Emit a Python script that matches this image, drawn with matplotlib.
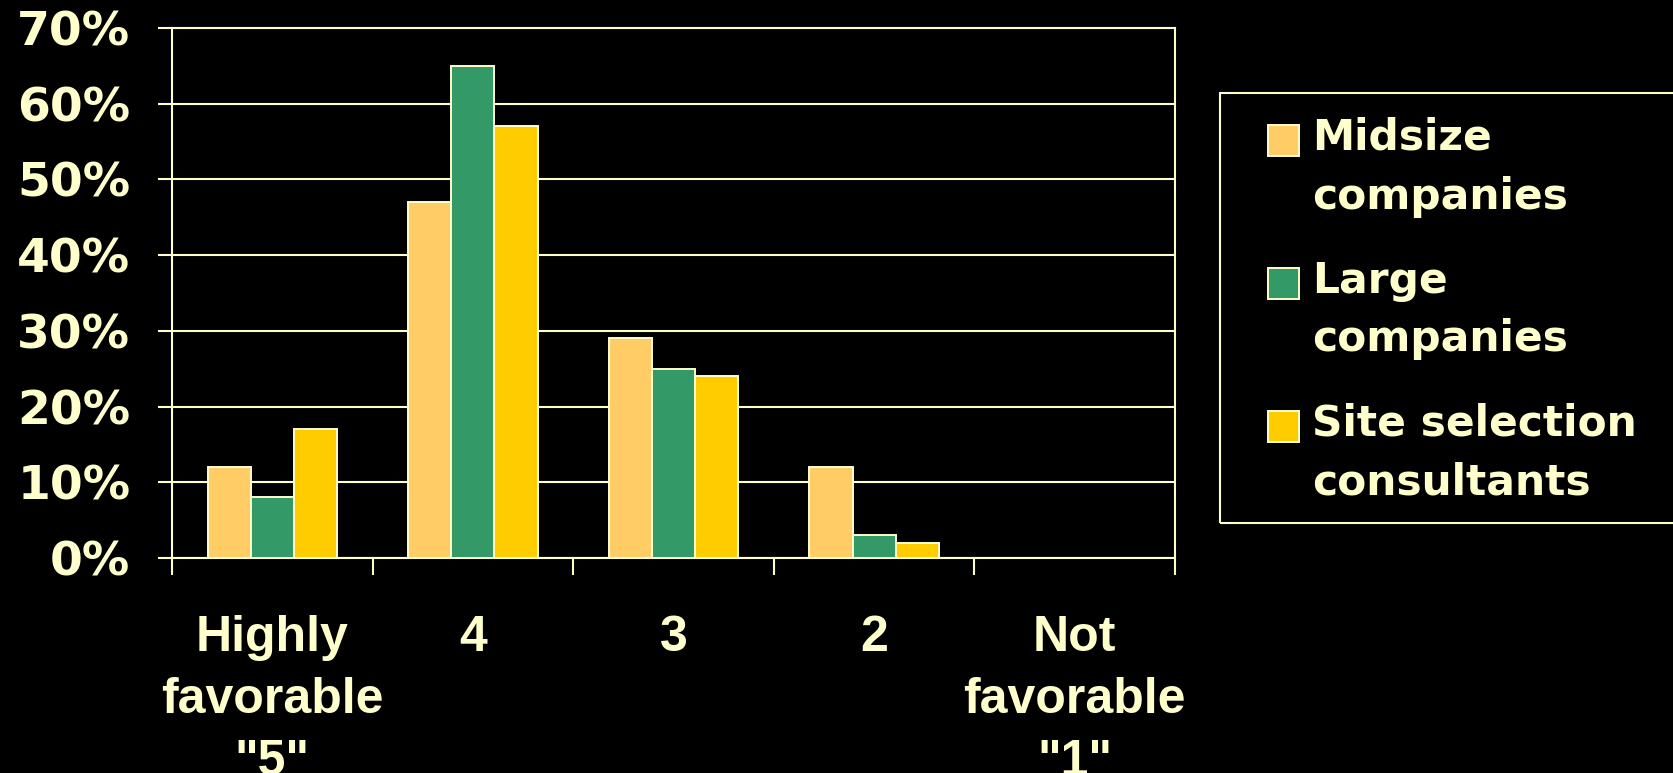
import matplotlib
matplotlib.use("Agg")
import matplotlib.pyplot as plt
import numpy as np
from matplotlib.patches import Rectangle
from matplotlib.container import BarContainer
from matplotlib.legend_handler import HandlerPatch

categories = ['Highly\nfavorable\n"5"', '4', '3', '2', 'Not\nfavorable\n"1"']
midsize = [12, 47, 29, 12, 0]
large = [8, 65, 25, 3, 0]
consultants = [17, 57, 24, 2, 0]
series_names = ['Midsize\ncompanies', 'Large\ncompanies', 'Site selection\nconsultants']
colors = ['#FFCC66', '#339966', '#FFCC00']
fg = '#FFFFCC'

fig = plt.figure(figsize=(16.73, 7.73), dpi=100, facecolor='black')
ax = fig.add_axes([172 / 1673, 1 - 558 / 773, (1175 - 172) / 1673, (558 - 28) / 773])
ax.set_facecolor('black')

x = np.arange(len(categories))
w = 0.215
for i, (vals, name, c) in enumerate(zip([midsize, large, consultants], series_names, colors)):
    ax.bar(x + (i - 1) * w, vals, w, color=c, edgecolor=fg, linewidth=1.4,
           label=name, zorder=3)

ax.set_xlim(-0.5, 4.5)
ax.set_ylim(0, 70)
ax.set_yticks(range(0, 71, 10))
ax.set_yticklabels([f'{v}%' for v in range(0, 71, 10)])
ax.yaxis.grid(True, color=fg, linewidth=1.5, zorder=1)

# boundaries get tick marks, centers get the labels
ax.set_xticks(np.arange(-0.5, 5.0, 1.0))
ax.set_xticklabels([])
ax.set_xticks(x, minor=True)
ax.set_xticklabels(categories, minor=True, fontfamily='Liberation Sans',
                   fontweight='bold', fontsize=36, color=fg, linespacing=1.45)
ax.tick_params(axis='x', which='minor', length=0, pad=41)
ax.tick_params(axis='x', which='major', length=12, width=1.5, color=fg)
ax.tick_params(axis='y', length=10, width=1.5, color=fg, pad=20,
               labelsize=34, labelcolor=fg)
for lab in ax.get_yticklabels():
    lab.set_fontweight('bold')
    lab.set_fontfamily('DejaVu Sans')

for s in ['left', 'right', 'bottom', 'top']:
    ax.spines[s].set_color(fg)
    ax.spines[s].set_linewidth(1.5)


# square handle sits next to the first line of the label
def top_square(legend, orig_handle, xdescent, ydescent, width, height, fontsize):
    sq = 0.72 * fontsize
    return Rectangle((-xdescent, -ydescent + height - sq + 0.23 * fontsize), sq, sq)


def first_child(legend_handle, orig_handle):
    legend_handle.update_from(orig_handle[0])


# legend frame drawn separately so the padding matches
fig.patches.append(Rectangle((1220 / 1673, 1 - 523 / 773), 500 / 1673, 430 / 773,
                             transform=fig.transFigure, facecolor='none',
                             edgecolor=fg, linewidth=1.5))
leg = fig.legend(loc='upper left', bbox_to_anchor=(1268 / 1673, 1 - 117 / 773),
                 frameon=False, borderpad=0, borderaxespad=0,
                 prop={'family': 'DejaVu Sans', 'weight': 'bold', 'size': 30.5},
                 handlelength=0.75, handleheight=2.2, handletextpad=0.3,
                 labelspacing=1.0,
                 handler_map={BarContainer: HandlerPatch(patch_func=top_square,
                                                         update_func=first_child)})
for t in leg.get_texts():
    t.set_color(fg)
    t.set_linespacing(1.5)

fig.savefig('out.png', dpi=100, facecolor='black')
